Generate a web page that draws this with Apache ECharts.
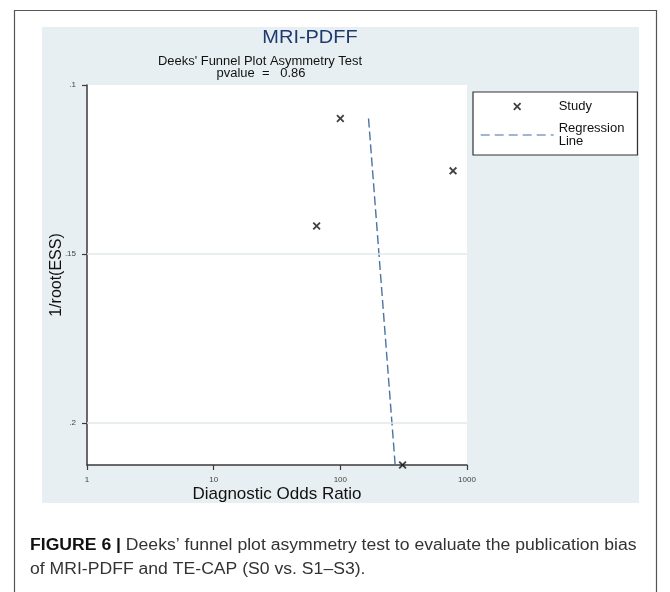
<!DOCTYPE html>
<html>
<head>
<meta charset="utf-8">
<script src="https://cdn.jsdelivr.net/npm/echarts@6/dist/echarts.min.js"></script>
<style>
html,body{margin:0;padding:0;background:#fff;}
#chart{width:670px;height:592px;}
</style>
</head>
<body>
<div id="chart"></div>
<script>
// ---- data ----
const studyDOR = [100, 776, 65, 310];
const studyInvRootESS = [0.1099, 0.1254, 0.1417, 0.2124];
const regressionDOR = [167, 271];
const regressionInvRootESS = [0.1099, 0.2124];
const xTickValues = [1, 10, 100, 1000];
const yTickValues = [0.1, 0.15, 0.2];
const yTickLabels = ['.1', '.15', '.2'];
const gridLineValues = [0.15, 0.2];

const FONT = '"Liberation Sans", Arial, Helvetica, sans-serif';
const chart = echarts.init(document.getElementById('chart'), null, {renderer: 'canvas'});

const xPath = 'path://M0,1.6 L1.6,0 L5,3.4 L8.4,0 L10,1.6 L6.6,5 L10,8.4 L8.4,10 L5,6.6 L1.6,10 L0,8.4 L3.4,5 Z';

const option = {
  animation: false,
  textStyle: {fontFamily: FONT},
  graphic: [
    {type: 'rect', z: -10, silent: true,
     shape: {x: 14.5, y: 10.5, width: 642, height: 620},
     style: {fill: '#ffffff', stroke: '#555555', lineWidth: 1.2}},
    {type: 'rect', z: -9, silent: true,
     shape: {x: 42, y: 27, width: 597, height: 476},
     style: {fill: '#e8eff2'}},
    {type: 'text', silent: true, x: 310, y: 38, scaleX: 1.05,
     style: {text: 'MRI-PDFF', font: '19px ' + FONT, fill: '#1e3a6e', align: 'center', verticalAlign: 'middle'}},
    {type: 'text', silent: true, x: 260, y: 62, scaleX: 1.08,
     style: {text: "Deeks' Funnel Plot Asymmetry Test", font: '12px ' + FONT, fill: '#111', align: 'center', verticalAlign: 'middle'}},
    {type: 'text', silent: true, x: 261, y: 74, scaleX: 1.08,
     style: {text: 'pvalue  =   0.86', font: '12px ' + FONT, fill: '#111', align: 'center', verticalAlign: 'middle'}},
    {type: 'text', silent: true, x: 30, y: 546, scaleX: 1.1,
     style: {text: '{b|FIGURE 6 |} Deeks\u2019 funnel plot asymmetry test to evaluate the publication bias',
             font: '16px ' + FONT, fill: '#333', verticalAlign: 'middle',
             rich: {b: {fontWeight: 'bold', fill: '#111', fontSize: 16, fontFamily: FONT}}}},
    {type: 'text', silent: true, x: 30, y: 570, scaleX: 1.1,
     style: {text: 'of MRI-PDFF and TE-CAP (S0 vs. S1\u2013S3).',
             font: '16px ' + FONT, fill: '#333', verticalAlign: 'middle'}}
  ],
  grid: {left: 87, top: 85, right: 203, bottom: 127, show: true, backgroundColor: '#ffffff', borderWidth: 0},
  legend: {
    left: 473, top: 92, orient: 'vertical',
    backgroundColor: '#ffffff', borderColor: '#333', borderWidth: 1.2, borderRadius: 0,
    padding: [8, 13, 7, 7], itemGap: 9, itemWidth: 73, itemHeight: 8,
    textStyle: {fontSize: 13, color: '#111', lineHeight: 13, fontFamily: FONT},
    data: [
      {name: 'Study'},
      {name: 'Regression\nLine', itemStyle: {opacity: 0, color: 'rgba(0,0,0,0)', borderWidth: 0},
       lineStyle: {color: '#7f9fc0', width: 1.4, type: [9, 5]}}
    ]
  },
  xAxis: {
    type: 'log', logBase: 10, min: 1, max: 1000,
    name: 'Diagnostic Odds Ratio', nameLocation: 'middle', nameGap: 21, nameMoveOverlap: false,
    nameTextStyle: {fontSize: 17, color: '#111', fontFamily: FONT},
    axisLine: {onZero: false, lineStyle: {color: '#3a3a3a', width: 1.5}},
    axisTick: {show: true, length: 5, lineStyle: {color: '#3a3a3a', width: 1.2}},
    minorTick: {show: false},
    splitLine: {show: false},
    axisLabel: {fontSize: 8, color: '#444', margin: 11, showMinLabel: true, showMaxLabel: true,
      customValues: xTickValues,
      formatter: v => String(Math.round(v))}
  },
  yAxis: {
    type: 'value', inverse: true, min: 0.1, max: 0.2124,
    name: '1/root(ESS)', nameLocation: 'middle', nameGap: 22, nameMoveOverlap: false,
    nameTextStyle: {fontSize: 16, color: '#111', fontFamily: FONT},
    axisLine: {show: true, onZero: false, lineStyle: {color: '#3a3a3a', width: 1.5}},
    axisTick: {show: true, length: 5, customValues: yTickValues, lineStyle: {color: '#3a3a3a', width: 1.2}},
    splitLine: {show: false},
    axisLabel: {fontSize: 8, color: '#444', margin: 11, customValues: yTickValues,
      formatter: v => {
        const i = yTickValues.findIndex(t => Math.abs(t - v) < 1e-6);
        return i >= 0 ? yTickLabels[i] : '';
      }}
  },
  series: [
    {
      name: 'Study', type: 'scatter', clip: false,
      symbol: xPath, symbolSize: 8,
      itemStyle: {color: '#111'},
      data: studyDOR.map((d, i) => [d, studyInvRootESS[i]]),
      markLine: {
        silent: true, symbol: ['none', 'none'], animation: false,
        label: {show: false},
        lineStyle: {type: 'solid', color: '#e2e9ec', width: 1.5},
        data: gridLineValues.map(v => ({yAxis: v}))
      },
      z: 3
    },
    {
      name: 'Regression\nLine', type: 'line', clip: false,
      symbol: 'none', showSymbol: false,
      lineStyle: {color: '#4a74a0', width: 1.4, type: [9, 4]},
      itemStyle: {color: '#4a74a0'},
      data: regressionDOR.map((d, i) => [d, regressionInvRootESS[i]]),
      z: 2
    }
  ]
};
chart.setOption(option);
</script>
</body>
</html>
